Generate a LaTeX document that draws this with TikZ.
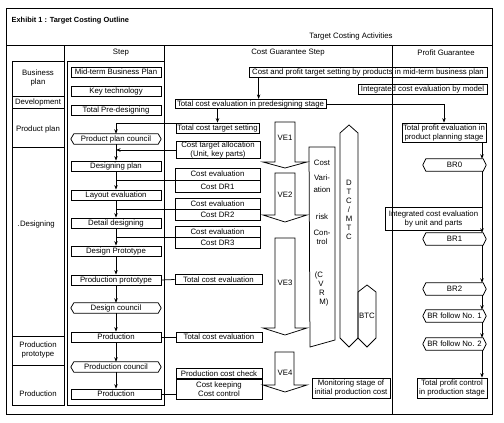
\documentclass[tikz,border=0pt]{standalone}
\usepackage{fontspec}
\setmainfont{Liberation Sans}
\usetikzlibrary{arrows.meta}
\begin{document}
\begin{tikzpicture}[x=1pt,y=-1pt,
  every node/.style={font=\fontsize{7.8}{9}\selectfont, inner sep=0.5pt},
  box/.style={draw, rectangle, align=center, line width=0.75pt},
  stepbox/.style={box, minimum width=90, minimum height=10},
  hexbox/.style={rectangle, align=center, minimum height=10},
  stephex/.style={hexbox, minimum width=84},
  brbox/.style={hexbox, minimum width=57, minimum height=12},
  lbl/.style={align=center},
  conn/.style={line width=0.75pt},
  arr/.style={conn, -{Stealth[length=4.5pt,width=3.5pt]}},
  bigarrow/.style={draw, line width=0.75pt, fill=white},
]
\useasboundingbox (0,0) rectangle (504,423);
% frame and table
\draw[line width=1pt] (6,8) rectangle (492,414);
\draw[conn] (6,45) -- (492,45);
\draw[conn] (64,45) -- (64,61);
\draw[conn] (164,45) -- (164,61);
\draw[conn] (392,45) -- (392,414);
\draw[conn] (12,61) rectangle (64,405);
\draw[conn] (67,61) rectangle (164,405);
\foreach \yy in {96,108,147,336,365} \draw[conn] (12,\yy) -- (64,\yy);

% titles
\node[anchor=west, font=\bfseries\fontsize{7.4}{8}\selectfont] (title) at (11,21) {Exhibit 1 : Target Costing Outline};
\node (tca) at (351,36) {Target Costing Activities};
\node (hstep) at (121,53) {Step};
\node (hcost) at (288,53) {Cost Guarantee Step};
\node (hprofit) at (446,53) {Profit Guarantee};

% left labels
\node[lbl] (lbp) at (38,77.5) {Business\\plan};
\node[lbl] (ldev) at (38,102) {Development};
\node[lbl] (lpp) at (38,129) {Product plan};
\node[lbl] (ldes) at (36,224) {.\hspace{0.6pt}Designing};
\node[lbl] (lprot) at (38,350) {Production\\prototype};
\node[lbl] (lprod) at (38,394) {Production};

% step column
\node[stepbox] (mbp) at (116,72) {Mid-term Business Plan};
\node[stepbox] (kt) at (116,91) {Key technology};
\node[stepbox] (tpd) at (116,110) {Total Pre-designing};
\node[stephex] (ppc) at (116,139) {Product plan council};
\node[stepbox] (dp) at (116,166) {Designing plan};
\node[stepbox] (le) at (116,195) {Layout evaluation};
\node[stepbox] (dd) at (116,223) {Detail designing};
\node[stepbox] (dpr) at (116,251) {Design Prototype};
\node[stepbox] (pp) at (116,280) {Production prototype};
\node[stephex] (dc) at (116,308) {Design council};
\node[stepbox] (pr1) at (116,337) {Production};
\node[stephex] (pc) at (116,367) {Production council};
\node[stepbox] (pr2) at (116,394) {Production};

\draw[arr] (ppc) -- (dp);
\draw[arr] (dp) -- (le);
\draw[arr] (le) -- (dd);
\draw[arr] (dd) -- (dpr);
\draw[arr] (dpr) -- (pp);
\draw[arr] (pp) -- (dc);
\draw[arr] (dc) -- (pr1);
\draw[arr] (pr1) -- (pc);
\draw[arr] (pc) -- (pr2);

% cost guarantee column
\node[box, minimum width=238, minimum height=10] (cpt) at (368,72) {Cost and profit target setting by products in mid-term business plan};
\node[box, minimum width=129, minimum height=9.5] (ice) at (422.5,89.5) {Integrated cost evaluation by model};
\node[box, minimum width=151, minimum height=9.5] (tce0) at (250.5,104) {Total cost evaluation in predesigning stage};
\node[box, minimum width=83, minimum height=10] (tcts) at (217.5,128) {Total cost target setting};
\node[box, minimum width=84, minimum height=16] (cta) at (218,150) {Cost target allocation\\(Unit, key parts)};
\node[box, minimum width=85, minimum height=12] (dr1a) at (217.5,174) {Cost evaluation};
\node[box, minimum width=85, minimum height=12, anchor=north] (dr1b) at (dr1a.south) {Cost DR1};
\node[box, minimum width=85, minimum height=11] (dr2a) at (217.5,203.5) {Cost evaluation};
\node[box, minimum width=85, minimum height=11, anchor=north] (dr2b) at (dr2a.south) {Cost DR2};
\node[box, minimum width=85, minimum height=11] (dr3a) at (217.5,231.5) {Cost evaluation};
\node[box, minimum width=85, minimum height=11, anchor=north] (dr3b) at (dr3a.south) {Cost DR3};
\node[box, minimum width=87, minimum height=9.5] (tce1) at (218.5,279.5) {Total cost evaluation};
\node[box, minimum width=86, minimum height=10] (tce2) at (219,337) {Total cost evaluation};
\node[box, minimum width=86, minimum height=9.5] (pcc) at (219,373.5) {Production cost check};
\node[box, minimum width=86, minimum height=20, anchor=north] (ck) at (pcc.south) {Cost keeping\\Cost control};
\node[box, minimum width=78, minimum height=20] (mon) at (351,388) {Monitoring stage of\\initial production cost};

\draw[arr] ([xshift=10pt]cpt.south west) -- ([xshift=10pt]cpt.south west |- tce0.north);
\draw[arr] (tce0.south -| tcts.north) -- (tcts.north);
\draw[arr] (tcts.174) -| (ppc.north);
\draw[arr] (cta.west) -- (cta.west -| ppc.south);
\draw[conn] (dr1a.south west) -- (dr1a.south west -| dp.south);
\draw[conn] (dr2a.south west) -- (dr2a.south west -| le.south);
\draw[conn] (dr3a.south west) -- (dr3a.south west -| dd.south);
\draw[conn] (pp.east) -- (tce1.west);
\draw[conn] (pr1.east) -- (tce2.west);
\draw[conn] (pr2.east) -- (pr2.east -| ck.west);

% VE block arrows
\draw[bigarrow] (275,122) -- (295,122) -- (295,162) -- (307,162) -- (285,168) -- (263,162) -- (275,162) -- cycle;
\node (ve1) at (285,138) {VE1};
\draw[bigarrow] (275,173) -- (295,173) -- (295,215) -- (307,215) -- (285,222) -- (263,215) -- (275,215) -- cycle;
\node (ve2) at (285,195) {VE2};
\draw[bigarrow] (275,238) -- (295,238) -- (295,328) -- (307,328) -- (285,335) -- (263,328) -- (275,328) -- cycle;
\node (ve3) at (285,283) {VE3};
\draw[bigarrow] (275,352) -- (294,352) -- (294,385) -- (307,385) -- (285,392) -- (263,385) -- (275,385) -- cycle;
\node (ve4) at (285,373) {VE4};

% CVRM
\draw[conn] (309,147) -- (335,147) -- (335,340) -- (310,347) -- cycle;
\node (cv1) at (322,163) {Cost};
\node (cv2) at (322,178) {Vari-};
\node (cv3) at (322,190) {ation};
\node (cv4) at (322,217) {risk};
\node (cv5) at (322,233) {Con-};
\node (cv6) at (322,242) {trol};
\node (cv7) at (319,275) {(C};
\node (cv8) at (321,284) {V};
\node (cv9) at (322,293) {R};
\node (cv10) at (324,302) {M)};

% DTC/MTC and BTC
\draw[conn] (349,125) -- (358,133) -- (358,338) -- (349,347) -- (340,338) -- (340,133) -- cycle;
\foreach \ch [count=\i from 0] in {D,T,C,/,M,T,C}
  \node (dtc\i) at (349,183+9*\i) {\ch};
\draw[conn] (367,285) -- (376,292) -- (376,338) -- (367,347) -- (358,338) -- (358,292) -- cycle;
\node (btc) at (367,316) {BTC};

% profit guarantee column
\coordinate (rx) at (482,100);
\node[box, minimum width=84, minimum height=19] (tpe) at (444,132.5) {Total profit evaluation in\\product planning stage};
\node[brbox] (br0) at (454.5,165) {BR0};
\node[box, minimum width=97, minimum height=23] (icu) at (433.5,218.5) {Integrated cost evaluation\\by unit and parts};
\node[brbox] (br1) at (454.5,239) {BR1};
\node[brbox] (br2) at (454.5,289) {BR2};
\node[brbox] (brf1) at (454.5,316) {BR follow No. 1};
\node[brbox] (brf2) at (454.5,344) {BR follow No. 2};
\node[box, minimum width=70, minimum height=20] (tpc) at (452,388) {Total profit control\\in production stage};

% hexagonal outlines of council / BR nodes
\foreach \n in {ppc,dc,pc,br0,br1,br2,brf1,brf2}
  \draw[conn] (\n.north west) -- (\n.north east) -- ([xshift=3pt]\n.east) -- (\n.south east) -- (\n.south west) -- ([xshift=-3pt]\n.west) -- cycle;

\draw[arr] (tce0.east) -| (tpe.north);
\draw[arr] (tpe.south -| rx) -- (br0.north -| rx);
\draw[arr] (br0.south -| rx) -- (br1.north -| rx);
\draw[arr] (br1.south -| rx) -- (br2.north -| rx);
\draw[arr] (br2.south -| rx) -- (brf1.north -| rx);
\draw[arr] (brf1.south -| rx) -- (brf2.north -| rx);
\draw[arr] (brf2.south -| rx) -- (tpc.north -| rx);
\end{tikzpicture}
\end{document}
